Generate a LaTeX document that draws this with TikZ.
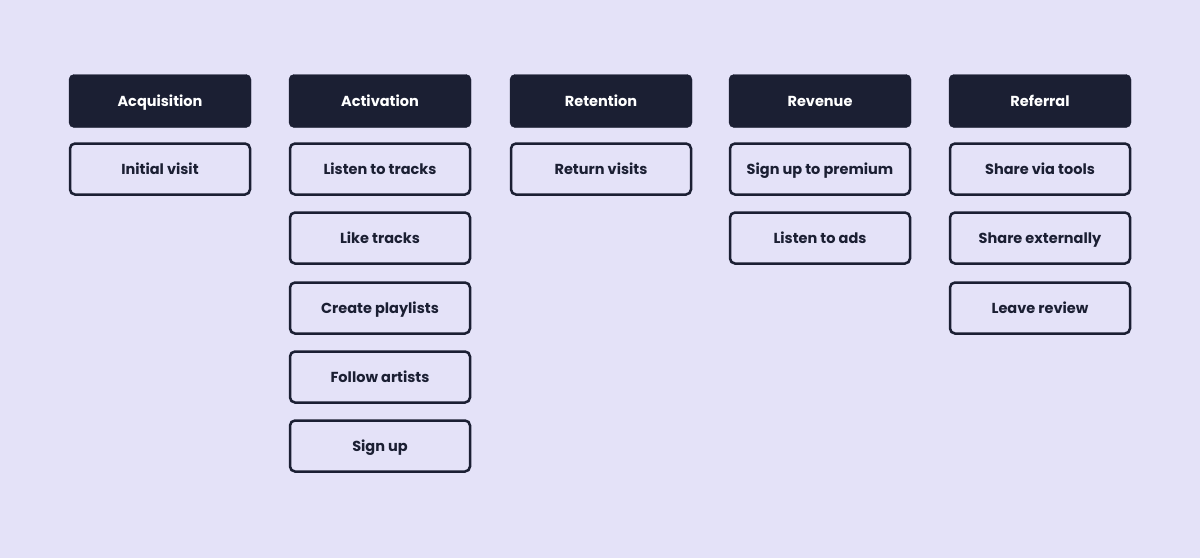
\documentclass[tikz,border=0pt]{standalone}
\usepackage{fontspec}
\setmainfont{Poppins}
\definecolor{bg}{HTML}{E4E2F8}
\definecolor{dk}{HTML}{1B1F33}
\begin{document}
\begin{tikzpicture}[x=1pt,y=-1pt,
 base/.style={rounded corners=5pt,text height=14.5pt,text depth=3pt,inner sep=0pt,font=\fontsize{14.5}{16}\selectfont\bfseries},
 hd/.style={base,fill=dk,draw=dk,minimum width=182pt,minimum height=53pt,text=white},
 bx/.style={base,fill=bg,draw=dk,line width=2.5pt,minimum width=180pt,minimum height=51pt,text=dk}]
\fill[bg] (0,0) rectangle (1200,558);
\useasboundingbox (0,0) rectangle (1200,558);
\node[hd] (h1) at (160,101) {Acquisition};
\node[hd] (h2) at (380,101) {Activation};
\node[hd] (h3) at (601,101) {Retention};
\node[hd] (h4) at (820,101) {Revenue};
\node[hd] (h5) at (1040,101) {Referral};
\node[bx] (a1) at (160,169) {Initial visit};
\node[bx] (b1) at (380,169) {Listen to tracks};
\node[bx] (b2) at (380,238) {Like tracks};
\node[bx] (b3) at (380,308) {Create playlists};
\node[bx] (b4) at (380,377) {Follow artists};
\node[bx] (b5) at (380,446) {Sign up};
\node[bx] (c1) at (601,169) {Return visits};
\node[bx] (d1) at (820,169) {Sign up to premium};
\node[bx] (d2) at (820,238) {Listen to ads};
\node[bx] (e1) at (1040,169) {Share via tools};
\node[bx] (e2) at (1040,238) {Share externally};
\node[bx] (e3) at (1040,308) {Leave review};
\end{tikzpicture}
\end{document}
